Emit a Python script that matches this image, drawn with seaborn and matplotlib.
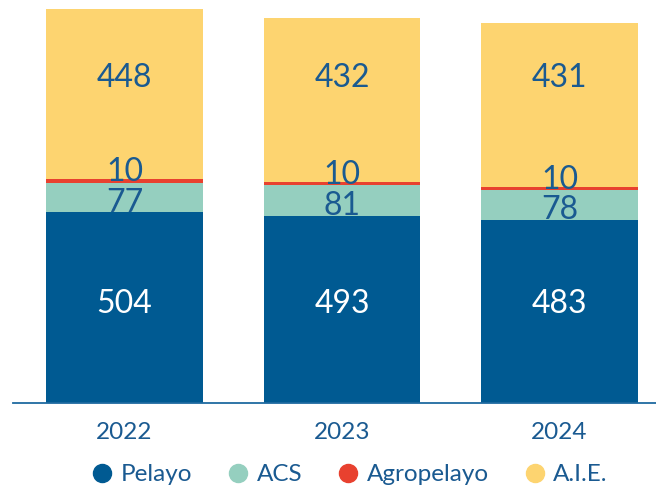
import numpy as np
import pandas as pd
import matplotlib.pyplot as plt
import seaborn as sns
from matplotlib.lines import Line2D

years = ["2022", "2023", "2024"]
pelayo = [504, 493, 483]
acs = [77, 81, 78]
agro = [10, 10, 10]
aie = [448, 432, 431]

series = ["Pelayo", "ACS", "Agropelayo", "A.I.E."]
colors = ["#005A92", "#95CFBF", "#E8412F", "#FDD470"]
text_blue = "#1A5A91"

sns.set_theme(style="white")
plt.rcParams["font.family"] = ["Lato", "DejaVu Sans"]

df = pd.DataFrame({"year": years, "Pelayo": pelayo, "ACS": acs,
                   "Agropelayo": agro, "A.I.E.": aie})

fig = plt.figure(figsize=(6.56, 4.93), dpi=100)
ax = fig.add_axes([13 / 656, 1 - 403 / 493, 643 / 656, 403 / 493])

bottom = np.zeros(len(years))
for name, col in zip(series, colors):
    sns.barplot(data=df, x="year", y=name, color=col, bottom=bottom,
                width=0.72, ax=ax, saturation=1, linewidth=0)
    bottom = bottom + df[name].values

ax.set_xlim(-0.513, 2.444)
ax.set_ylim(0, 1063)

# value labels
lab = dict(ha="center", va="center", fontsize=23)
for i in range(len(years)):
    ax.text(i, 261, str(pelayo[i]), color="white", **lab)
    ax.text(i, pelayo[i] + acs[i] / 2 - 14, str(acs[i]), color=text_blue, **lab)
    ax.text(i, pelayo[i] + acs[i] + agro[i] / 2 + 22, str(agro[i]),
            color=text_blue, **lab)
    ax.text(i, 857, str(aie[i]), color=text_blue, **lab)

sns.despine(ax=ax, left=True, top=True, right=True)
ax.spines["bottom"].set_color("#1F6AA0")
ax.spines["bottom"].set_linewidth(1.3)
ax.set_yticks([])
ax.set_xlabel("")
ax.set_ylabel("")
ax.tick_params(axis="x", length=0, pad=14, labelsize=17.5, labelcolor=text_blue)

handles = [Line2D([0], [0], marker="o", linestyle="", markersize=13,
                  markerfacecolor=c, markeredgecolor=c) for c in colors]
fig.legend(handles, series, loc="center", bbox_to_anchor=(0.532, 0.037),
           ncol=4, frameon=False, fontsize=17.5, labelcolor=text_blue,
           handletextpad=0.25, columnspacing=1.4, handlelength=1.0)

fig.savefig("out.png", dpi=100)
